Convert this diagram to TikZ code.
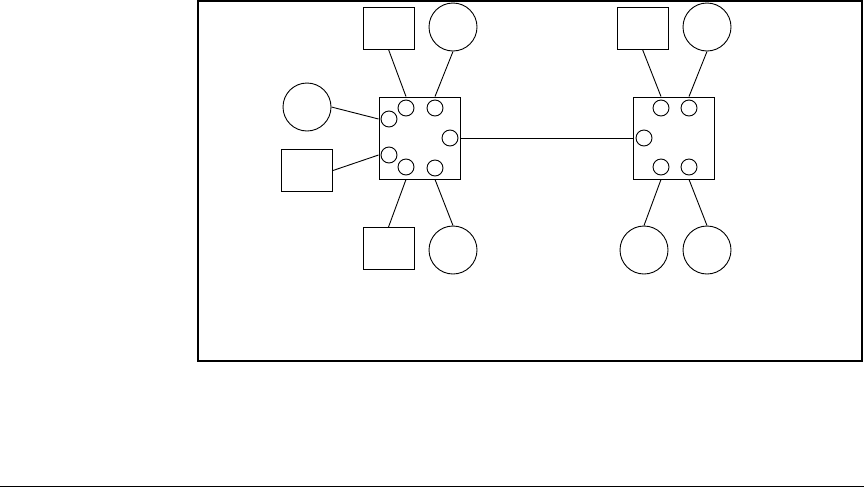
\documentclass[tikz,border=0pt]{standalone}
\begin{document}
\begin{tikzpicture}[x=1pt,y=-1pt,
    switchbox/.style={draw,line width=0.9pt,minimum width=81pt,minimum height=82pt,inner sep=0pt},
    port/.style={draw,circle,line width=0.9pt,minimum size=16pt,inner sep=0pt},
    host/.style={draw,circle,line width=0.9pt,minimum size=48pt,inner sep=0pt},
    term/.style={draw,line width=0.9pt,minimum width=51pt,minimum height=42pt,inner sep=0pt},
    link/.style={line width=0.9pt}]
    \useasboundingbox (0,0) rectangle (864,488);
    \draw[line width=2pt] (198,1) rectangle (861.5,361);
    \draw[line width=1.5pt] (0,486.5) -- (864,486.5);
    % left switch
    \node[switchbox] (boxA) at (419.5,138) {};
    \node[port] (a1) at (406,108) {};
    \node[port] (a2) at (435,108) {};
    \node[port] (a3) at (389,119) {};
    \node[port] (a4) at (450,138) {};
    \node[port] (a5) at (389,155) {};
    \node[port] (a6) at (406,167) {};
    \node[port] (a7) at (435,168) {};
    % right switch
    \node[switchbox] (boxB) at (674,138) {};
    \node[port] (b1) at (661,108) {};
    \node[port] (b2) at (689,108) {};
    \node[port] (b3) at (644,138) {};
    \node[port] (b4) at (661,167) {};
    \node[port] (b5) at (689,167) {};
    % devices
    \node[term] (sqA1) at (388.5,28) {};
    \node[host] (hA1) at (453,27) {};
    \node[host] (hA2) at (307,107) {};
    \node[term] (sqA2) at (307,170.5) {};
    \node[term] (sqA3) at (388.5,248.5) {};
    \node[host] (hA3) at (453,250) {};
    \node[term] (sqB1) at (642.5,28) {};
    \node[host] (hB1) at (707,27) {};
    \node[host] (hB2) at (644,250) {};
    \node[host] (hB3) at (707,250) {};
    % links
    \draw[link] (sqA1.south) -- (a1 |- boxA.north);
    \draw[link] (hA1.south) -- (a2 |- boxA.north);
    \draw[link] (hA2.east) -- (boxA.west |- a3);
    \draw[link] (sqA2.east) -- (boxA.west |- a5);
    \draw[link] (sqA3.north) -- (a6 |- boxA.south);
    \draw[link] (hA3.north) -- (a7 |- boxA.south);
    \draw[link] (boxA.east) -- (boxB.west);
    \draw[link] (sqB1.south) -- (b1 |- boxB.north);
    \draw[link] (hB1.south) -- (b2 |- boxB.north);
    \draw[link] (hB2.north) -- (b4 |- boxB.south);
    \draw[link] (hB3.north) -- (b5 |- boxB.south);
\end{tikzpicture}
\end{document}
